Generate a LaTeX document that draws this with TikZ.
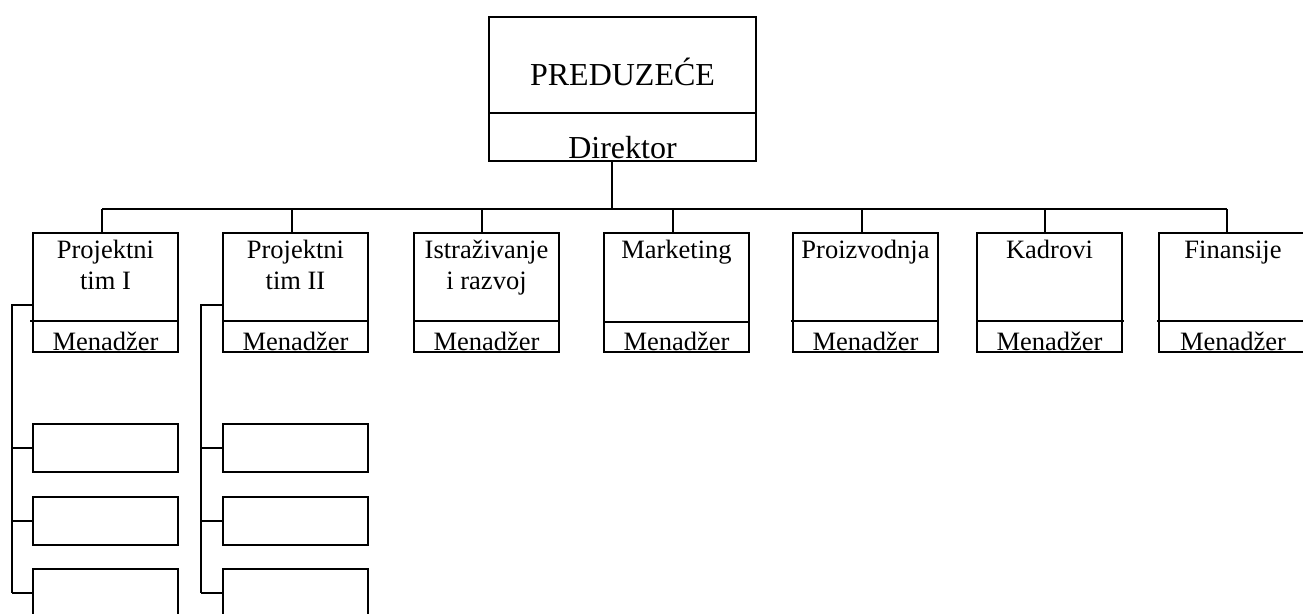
\documentclass[tikz,border=0pt]{standalone}
\usepackage{fontspec}
\setmainfont{Liberation Serif}
\begin{document}
\begin{tikzpicture}[x=1pt,y=-1pt,line width=2pt,
  topbox/.style={draw,rectangle,inner sep=0pt,minimum width=267pt,minimum height=144pt},
  unit/.style={draw,rectangle,inner sep=0pt,minimum width=145pt,minimum height=119pt},
  member/.style={draw,rectangle,inner sep=0pt,minimum width=145pt,minimum height=48pt},
  bigtext/.style={font=\fontsize{32}{38}\selectfont,anchor=base,inner sep=0pt},
  lbl/.style={font=\fontsize{26.5}{31}\selectfont,anchor=base,inner sep=0pt},
]
\useasboundingbox (0,0) rectangle (1303,613);

% company box
\node[topbox] (top) at (622.5,89) {};
\draw (489,113) -- (756,113);
\node[bigtext] (firm) at (622.5,85) {PREDUZEĆE};
\node[bigtext] (dir) at (622.5,158) {Direktor};

% departments
\node[unit] (d1) at (105.5,292.5) {};
\node[unit] (d2) at (295.5,292.5) {};
\node[unit] (d3) at (486.5,292.5) {};
\node[unit] (d4) at (676.5,292.5) {};
\node[unit] (d5) at (865.5,292.5) {};
\node[unit] (d6) at (1049.5,292.5) {};
\node[unit,minimum width=148pt] (d7) at (1233,292.5) {};

% manager dividers
\draw (30,321) -- (178,321);
\draw (223,321) -- (368,321);
\draw (413,321) -- (559,321);
\draw (604,322) -- (749,322);
\draw (791,321) -- (938,321);
\draw (977,321) -- (1124,321);
\draw (1157,321) -- (1307,321);

% department titles
\node[lbl] (t1a) at (105.5,258) {Projektni};
\node[lbl] (t1b) at (105.5,289) {tim I};
\node[lbl] (t2a) at (295.5,258) {Projektni};
\node[lbl] (t2b) at (295.5,289) {tim II};
\node[lbl] (t3a) at (486.5,258) {Istraživanje};
\node[lbl] (t3b) at (486.5,289) {i razvoj};
\node[lbl] (t4a) at (676.5,258) {Marketing};
\node[lbl] (t5a) at (865.5,258) {Proizvodnja};
\node[lbl] (t6a) at (1049.5,258) {Kadrovi};
\node[lbl] (t7a) at (1233,258) {Finansije};

% manager labels
\node[lbl] (m1) at (105.5,350) {Menadžer};
\node[lbl] (m2) at (295.5,350) {Menadžer};
\node[lbl] (m3) at (486.5,350) {Menadžer};
\node[lbl] (m4) at (676.5,350) {Menadžer};
\node[lbl] (m5) at (865.5,350) {Menadžer};
\node[lbl] (m6) at (1049.5,350) {Menadžer};
\node[lbl] (m7) at (1233,350) {Menadžer};

% team members
\node[member] (s11) at (105.5,448) {};
\node[member] (s12) at (105.5,521) {};
\node[member] (s13) at (105.5,593) {};
\node[member] (s21) at (295.5,448) {};
\node[member] (s22) at (295.5,521) {};
\node[member] (s23) at (295.5,593) {};

% bus connecting director to departments
\coordinate (hub) at (612,209);
\coordinate (j1) at (102,209);
\coordinate (j2) at (292,209);
\coordinate (j3) at (482,209);
\coordinate (j4) at (673,209);
\coordinate (j5) at (862,209);
\coordinate (j6) at (1045,209);
\coordinate (j7) at (1227,209);
\draw (top.south -| hub) -- (hub);
\draw (j1) -- (j7);
\foreach \k in {1,...,7} \draw (j\k) -- (j\k |- d\k.north);

% team brackets
\coordinate (b1) at (12,305);
\coordinate (b2) at (201,305);
\draw (d1.west |- b1) -- (b1) -- (b1 |- s13.west);
\draw (d2.west |- b2) -- (b2) -- (b2 |- s23.west);
\foreach \k in {1,2,3} {
  \draw (b1 |- s1\k.west) -- (s1\k.west);
  \draw (b2 |- s2\k.west) -- (s2\k.west);
}
\end{tikzpicture}
\end{document}
